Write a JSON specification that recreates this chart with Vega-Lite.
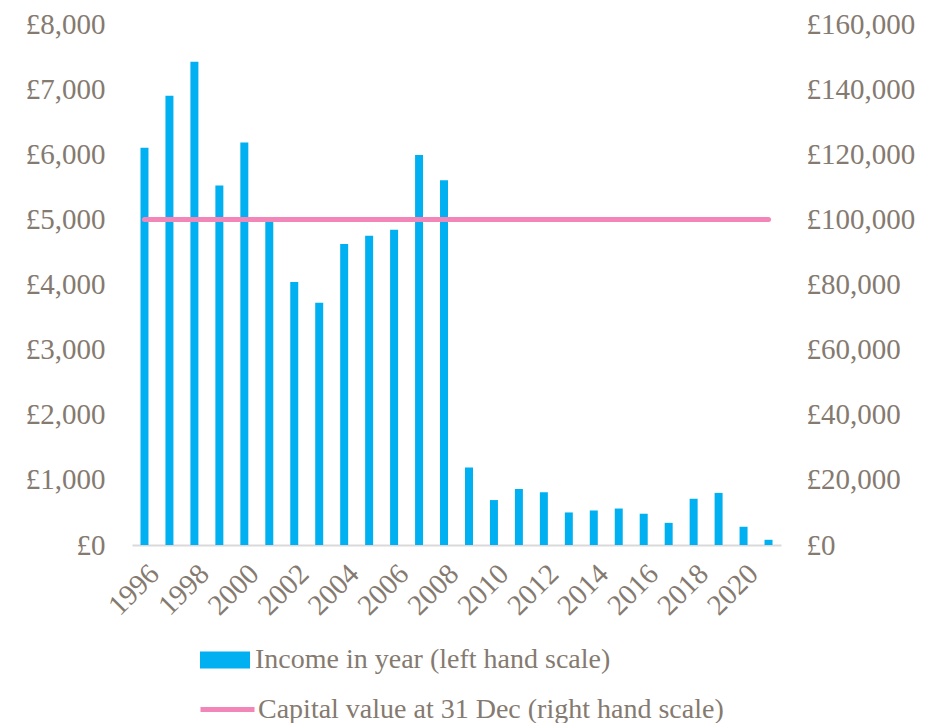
{
  "$schema": "https://vega.github.io/schema/vega-lite/v6.json",
  "width": 649,
  "height": 521,
  "autosize": {"type": "none"},
  "padding": {"left": 132, "top": 24, "right": 147, "bottom": 178},
  "background": "white",
  "data": {"values": [
    {"year": 1996, "income": 6100, "capital": 100000},
    {"year": 1997, "income": 6900, "capital": 100000},
    {"year": 1998, "income": 7420, "capital": 100000},
    {"year": 1999, "income": 5520, "capital": 100000},
    {"year": 2000, "income": 6180, "capital": 100000},
    {"year": 2001, "income": 5020, "capital": 100000},
    {"year": 2002, "income": 4040, "capital": 100000},
    {"year": 2003, "income": 3720, "capital": 100000},
    {"year": 2004, "income": 4620, "capital": 100000},
    {"year": 2005, "income": 4750, "capital": 100000},
    {"year": 2006, "income": 4840, "capital": 100000},
    {"year": 2007, "income": 5990, "capital": 100000},
    {"year": 2008, "income": 5600, "capital": 100000},
    {"year": 2009, "income": 1190, "capital": 100000},
    {"year": 2010, "income": 690, "capital": 100000},
    {"year": 2011, "income": 860, "capital": 100000},
    {"year": 2012, "income": 810, "capital": 100000},
    {"year": 2013, "income": 500, "capital": 100000},
    {"year": 2014, "income": 530, "capital": 100000},
    {"year": 2015, "income": 560, "capital": 100000},
    {"year": 2016, "income": 480, "capital": 100000},
    {"year": 2017, "income": 340, "capital": 100000},
    {"year": 2018, "income": 710, "capital": 100000},
    {"year": 2019, "income": 800, "capital": 100000},
    {"year": 2020, "income": 280, "capital": 100000},
    {"year": 2021, "income": 80, "capital": 100000}
  ]},
  "encoding": {
    "x": {
      "field": "year",
      "type": "ordinal",
      "scale": {"paddingInner": 0.68, "paddingOuter": 0.34},
      "axis": {
        "title": null,
        "values": [1996, 1998, 2000, 2002, 2004, 2006, 2008, 2010, 2012, 2014, 2016, 2018, 2020],
        "labelAngle": -45,
        "labelPadding": 14,
        "domain": true,
        "domainColor": "#d9d9d9",
        "domainWidth": 2,
        "ticks": false
      }
    }
  },
  "layer": [
    {
      "mark": {"type": "bar"},
      "encoding": {
        "y": {
          "field": "income",
          "type": "quantitative",
          "scale": {"domain": [0, 8000], "nice": false},
          "axis": {
            "title": null,
            "orient": "left",
            "values": [0, 1000, 2000, 3000, 4000, 5000, 6000, 7000, 8000],
            "labelExpr": "'£' + format(datum.value, ',')",
            "labelPadding": 27
          }
        },
        "fill": {
          "datum": "Income in year (left hand scale)",
          "type": "nominal",
          "scale": {"range": ["#00B0F0"]},
          "legend": {
            "title": null,
            "orient": "none",
            "legendX": 68,
            "legendY": 611,
            "symbolType": "M-1,-0.34H1V0.34H-1Z",
            "symbolSize": 2500,
            "symbolStrokeWidth": 0,
            "labelOffset": 5
          }
        }
      }
    },
    {
      "mark": {"type": "line", "strokeWidth": 5, "strokeCap": "round"},
      "encoding": {
        "y": {
          "field": "capital",
          "type": "quantitative",
          "scale": {"domain": [0, 160000], "nice": false},
          "axis": {
            "title": null,
            "orient": "right",
            "values": [0, 20000, 40000, 60000, 80000, 100000, 120000, 140000, 160000],
            "labelExpr": "'£' + format(datum.value, ',')",
            "labelPadding": 25
          }
        },
        "stroke": {
          "datum": "Capital value at 31 Dec (right hand scale)",
          "type": "nominal",
          "scale": {"range": ["#F286B8"]},
          "legend": {
            "title": null,
            "orient": "none",
            "legendX": 66,
            "legendY": 656,
            "symbolType": "stroke",
            "symbolSize": 2916,
            "symbolStrokeWidth": 5,
            "labelOffset": 1
          }
        }
      }
    }
  ],
  "resolve": {"scale": {"y": "independent", "fill": "independent", "stroke": "independent"}},
  "config": {
    "view": {"stroke": null},
    "font": "Liberation Serif",
    "axis": {
      "labelFont": "Liberation Serif",
      "labelFontSize": 29,
      "labelColor": "#857a70",
      "ticks": false,
      "grid": false,
      "domain": false
    },
    "legend": {
      "labelFont": "Liberation Serif",
      "labelFontSize": 28,
      "labelColor": "#857a70",
      "labelLimit": 800,
      "padding": 0
    }
  }
}
